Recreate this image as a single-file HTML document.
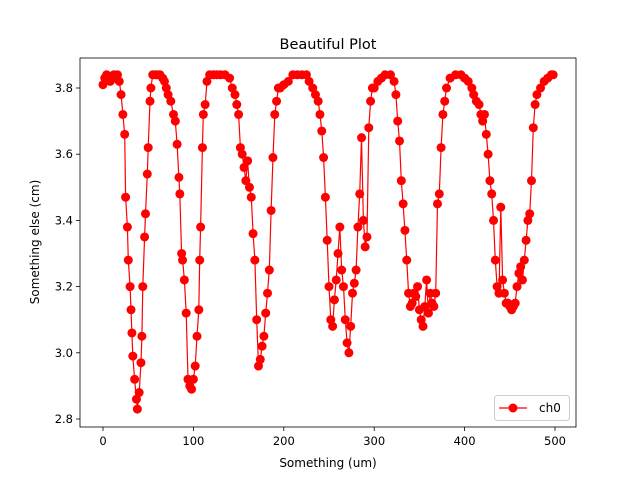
<!DOCTYPE html>
<html><head><meta charset="utf-8"><style>
body{margin:0;background:#fff;font-family:"Liberation Sans","DejaVu Sans",sans-serif}
svg text{font-family:"DejaVu Sans","Liberation Sans",sans-serif}
</style></head><body>
<svg id="c" width="640" height="480" xmlns="http://www.w3.org/2000/svg"></svg>
<script>
const xs=[0,2,4,6,8,10,12,14,16,18,20,22,24,25,27,28,30,31,32,33,35,37,38,40,42,43,44,46,47,49,50,52,53,55,58,60,63,66,68,70,72,75,78,80,82,84,85,87,88,90,92,94,96,98,100,102,104,106,107,108,110,111,113,115,118,122,126,130,135,140,143,146,148,150,152,154,156,158,160,162,164,166,168,170,172,174,176,178,180,182,184,186,188,190,192,194,196,200,205,210,215,220,225,228,232,235,238,240,242,244,246,248,250,252,254,256,258,260,262,264,266,268,270,272,274,276,278,280,282,284,286,288,290,292,294,296,298,300,304,308,312,318,322,324,326,328,330,332,334,336,338,340,342,344,346,348,350,352,354,356,358,360,362,364,366,368,370,372,374,376,378,380,384,390,396,400,404,408,410,413,416,418,420,422,424,426,428,430,432,434,436,438,440,442,444,446,448,450,452,454,456,458,460,462,464,466,468,470,472,474,476,478,480,484,488,492,496,498];
const ys=[3.81,3.83,3.84,3.83,3.82,3.83,3.84,3.83,3.84,3.82,3.78,3.72,3.66,3.47,3.38,3.28,3.20,3.13,3.06,2.99,2.92,2.86,2.83,2.88,2.97,3.05,3.20,3.35,3.42,3.54,3.62,3.76,3.80,3.84,3.84,3.84,3.84,3.83,3.82,3.80,3.78,3.76,3.72,3.70,3.63,3.53,3.48,3.30,3.28,3.22,3.12,2.92,2.90,2.89,2.92,2.96,3.05,3.13,3.28,3.38,3.62,3.72,3.75,3.82,3.84,3.84,3.84,3.84,3.84,3.83,3.80,3.78,3.75,3.72,3.62,3.60,3.56,3.52,3.58,3.50,3.47,3.36,3.28,3.10,2.96,2.98,3.02,3.05,3.12,3.18,3.25,3.43,3.59,3.72,3.76,3.80,3.80,3.81,3.82,3.84,3.84,3.84,3.84,3.82,3.80,3.78,3.76,3.72,3.67,3.59,3.47,3.34,3.20,3.10,3.08,3.16,3.22,3.30,3.38,3.25,3.20,3.10,3.03,3.00,3.08,3.18,3.21,3.25,3.38,3.48,3.65,3.40,3.32,3.35,3.68,3.76,3.80,3.80,3.82,3.83,3.84,3.84,3.82,3.78,3.70,3.64,3.52,3.45,3.37,3.28,3.18,3.14,3.15,3.18,3.17,3.20,3.13,3.10,3.08,3.14,3.22,3.12,3.18,3.15,3.14,3.18,3.45,3.48,3.62,3.72,3.76,3.80,3.83,3.84,3.84,3.83,3.82,3.80,3.78,3.76,3.75,3.72,3.70,3.72,3.66,3.60,3.52,3.48,3.40,3.28,3.20,3.18,3.44,3.22,3.18,3.15,3.15,3.14,3.13,3.14,3.15,3.20,3.24,3.26,3.22,3.28,3.34,3.40,3.42,3.52,3.68,3.75,3.78,3.80,3.82,3.83,3.84,3.84];
const xTicks=[0,100,200,300,400,500];
const yTicks=[2.8,3.0,3.2,3.4,3.6,3.8];
const yTickLabels=["2.8","3.0","3.2","3.4","3.6","3.8"];
const L=80,R=576,T=58,B=427;
const sx=v=>103+v*(555-103)/500;
const sy=v=>88+(3.8-v)*331;
const svg=document.getElementById('c');
const NS='http://www.w3.org/2000/svg';
function mk(t,a,p){const e=document.createElementNS(NS,t);for(const k in a)e.setAttribute(k,a[k]);(p||svg).appendChild(e);return e;}
let t=mk('text',{x:328,y:49,'text-anchor':'middle','font-size':'14.5'});t.textContent='Beautiful Plot';


xTicks.forEach(v=>{const x=sx(v);const l=mk('line',{x1:x,x2:x,y1:B,y2:B+4,stroke:'#000','stroke-width':0.8});


const tx=mk('text',{x:x,y:B+18,'text-anchor':'middle','font-size':'11.5'});tx.textContent=v;

});
yTicks.forEach((v,i)=>{const y=sy(v);const l=mk('line',{x1:L-4,x2:L,y1:y,y2:y,stroke:'#000','stroke-width':0.8});


const tx=mk('text',{x:L-7,y:y+4,'text-anchor':'end','font-size':'11.5'});tx.textContent=yTickLabels[i];

});
let xl=mk('text',{x:328,y:467,'text-anchor':'middle','font-size':'12'});xl.textContent='Something (um)';


let yl=mk('text',{x:0,y:0,'text-anchor':'middle','font-size':'12',transform:'translate(39,242) rotate(-90)'});yl.textContent='Something else (cm)';


const pts=xs.map((x,i)=>sx(x).toFixed(1)+','+sy(ys[i]).toFixed(1)).join(' ');
const line=mk('polyline',{points:pts,fill:'none',stroke:'#ff0000','stroke-width':1.2});


xs.forEach((x,i)=>{const c=mk('circle',{cx:sx(x),cy:sy(ys[i]),r:4.5,fill:'#ff0000'});

});
const fr=mk('rect',{x:L,y:T,width:R-L,height:B-T,fill:'none',stroke:'#000','stroke-width':0.8});


const lg=mk('g',{});


mk('rect',{x:494.5,y:395.5,width:75,height:25,rx:3,fill:'#fff',stroke:'#ccc','stroke-width':1},lg);
mk('line',{x1:499,x2:527,y1:408,y2:408,stroke:'#ff0000','stroke-width':1.2},lg);
mk('circle',{cx:513,cy:408,r:4.5,fill:'#ff0000'},lg);
const lt=mk('text',{x:539,y:412,'font-size':'12'},lg);lt.textContent='ch0';


</script>
</body></html>
